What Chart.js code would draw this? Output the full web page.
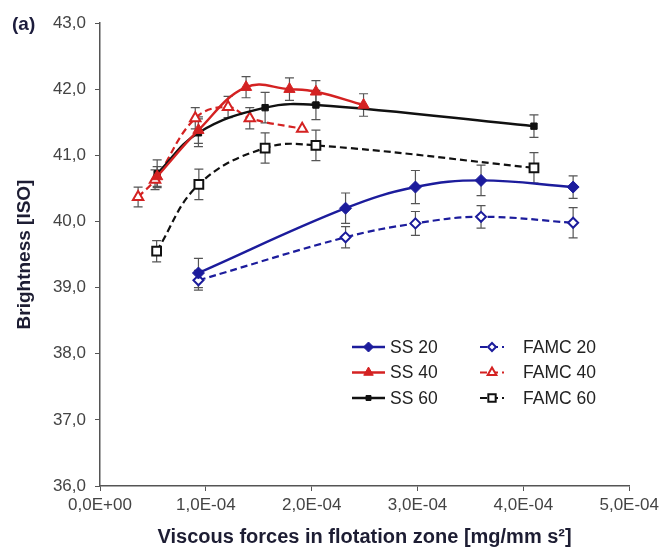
<!DOCTYPE html>
<html>
<head>
<meta charset="utf-8">
<script src="https://cdn.jsdelivr.net/npm/chart.js@4.4.0/dist/chart.umd.min.js"></script>
<style>
  html, body { margin: 0; padding: 0; background: #fff; }
</style>
</head>
<body>
<canvas id="brightChart" width="663" height="550"></canvas>
<script>
// axis ticks
const xTicks = [0, 1e-4, 2e-4, 3e-4, 4e-4, 5e-4];
const xTickLabels = ['0,0E+00', '1,0E-04', '2,0E-04', '3,0E-04', '4,0E-04', '5,0E-04'];
const yTicks = [36, 37, 38, 39, 40, 41, 42, 43];
const yTickLabels = ['36,0', '37,0', '38,0', '39,0', '40,0', '41,0', '42,0', '43,0'];

// SS series
const ss20X = [0.93e-4, 2.32e-4, 2.98e-4, 3.60e-4, 4.47e-4];
const ss20Y = [39.22, 40.20, 40.52, 40.62, 40.52];
const ss20Err = [0.22, 0.23, 0.25, 0.23, 0.17];

const ss40X = [0.54e-4, 0.93e-4, 1.38e-4, 1.79e-4, 2.04e-4, 2.49e-4];
const ss40Y = [40.68, 41.38, 42.03, 42.00, 41.96, 41.76];
const ss40Err = [0.15, 0.20, 0.16, 0.17, 0.17, 0.17];

const ss60X = [0.54e-4, 0.93e-4, 1.56e-4, 2.04e-4, 4.10e-4];
const ss60Y = [40.72, 41.34, 41.72, 41.76, 41.44];
const ss60Err = [0.21, 0.21, 0.23, 0.22, 0.17];

// FAMC series
const famc20X = [0.93e-4, 2.32e-4, 2.98e-4, 3.60e-4, 4.47e-4];
const famc20Y = [39.11, 39.76, 39.97, 40.07, 39.98];
const famc20Err = [0.15, 0.16, 0.18, 0.17, 0.23];

const famc40X = [0.36e-4, 0.52e-4, 0.90e-4, 1.21e-4, 1.415e-4, 1.91e-4];
const famc40Y = [40.37, 40.63, 41.56, 41.73, 41.56, 41.40];
const famc40Err = [0.15, 0.15, 0.16, 0.16, 0.16, 0];

const famc60X = [0.535e-4, 0.934e-4, 1.56e-4, 2.04e-4, 4.10e-4];
const famc60Y = [39.55, 40.56, 41.11, 41.15, 40.81];
const famc60Err = [0.16, 0.23, 0.23, 0.23, 0.23];

const BLUE = '#1c1c9c', RED = '#d42222', BLACK = '#111111';
const FONT = '"Liberation Sans", Arial, sans-serif';

function pts(xs, ys) { return xs.map((x, i) => ({x: x, y: ys[i]})); }

function series(label, xs, ys, errs, color, style, radius, open) {
  return {
    label: label,
    data: pts(xs, ys),
    errors: errs,
    borderColor: color,
    backgroundColor: open ? '#ffffff' : color,
    pointBorderColor: color,
    pointBackgroundColor: open ? '#ffffff' : color,
    pointStyle: style,
    pointRadius: radius,
    pointBorderWidth: open ? 2 : 1,
    borderWidth: open ? 2.2 : 2.4,
    borderDash: open ? [7, 4] : [],
    tension: 0.4,
    fill: false
  };
}

// error bars under the markers
const errorBars = {
  id: 'errorBars',
  beforeDatasetsDraw(chart) {
    const ctx = chart.ctx, ys = chart.scales.y;
    ctx.save();
    ctx.strokeStyle = '#555';
    ctx.lineWidth = 1.2;
    chart.data.datasets.forEach((ds, i) => {
      const meta = chart.getDatasetMeta(i);
      ds.data.forEach((p, j) => {
        const e = ds.errors[j];
        if (!e) return;
        const x = meta.data[j].x;
        const top = ys.getPixelForValue(p.y + e), bot = ys.getPixelForValue(p.y - e);
        ctx.beginPath();
        ctx.moveTo(x, top); ctx.lineTo(x, bot);
        ctx.moveTo(x - 4.5, top); ctx.lineTo(x + 4.5, top);
        ctx.moveTo(x - 4.5, bot); ctx.lineTo(x + 4.5, bot);
        ctx.stroke();
      });
    });
    ctx.restore();
  }
};

// two column legend inside the plot + panel letter
const insideLegend = {
  id: 'insideLegend',
  afterDraw(chart) {
    const ctx = chart.ctx;
    ctx.save();
    chart.data.datasets.forEach((ds, i) => {
      const col = i < 3 ? 0 : 1, row = i % 3;
      const x0 = col === 0 ? 352 : 480, x1 = col === 0 ? 385 : 504;
      const tx = col === 0 ? 390 : 523;
      const y = 347 + row * 25.5;
      ctx.strokeStyle = ds.borderColor;
      ctx.lineWidth = ds.borderWidth;
      ctx.setLineDash(ds.borderDash);
      ctx.beginPath(); ctx.moveTo(x0, y); ctx.lineTo(x1, y); ctx.stroke();
      ctx.setLineDash([]);
      ctx.fillStyle = ds.pointBackgroundColor;
      ctx.strokeStyle = ds.pointBorderColor;
      ctx.lineWidth = ds.pointBorderWidth;
      Chart.helpers.drawPoint(ctx, {pointStyle: ds.pointStyle, radius: ds.pointRadius - 1, rotation: 0, borderWidth: ds.pointBorderWidth}, (x0 + x1) / 2, y);
      ctx.fillStyle = '#222';
      ctx.font = '17.5px ' + FONT;
      ctx.textBaseline = 'middle';
      ctx.textAlign = 'left';
      ctx.fillText(ds.label, tx, y + 1);
    });
    ctx.fillStyle = '#1c1c3c';
    ctx.font = 'bold 19px ' + FONT;
    ctx.textBaseline = 'middle';
    ctx.fillText('(a)', 12, 25);
    ctx.restore();
  }
};

new Chart(document.getElementById('brightChart').getContext('2d'), {
  type: 'line',
  data: {
    datasets: [
      series('SS 20', ss20X, ss20Y, ss20Err, BLUE, 'rectRot', 6, false),
      series('SS 40', ss40X, ss40Y, ss40Err, RED, 'triangle', 6.5, false),
      series('SS 60', ss60X, ss60Y, ss60Err, BLACK, 'rect', 4.5, false),
      series('FAMC 20', famc20X, famc20Y, famc20Err, BLUE, 'rectRot', 5, true),
      series('FAMC 40', famc40X, famc40Y, famc40Err, RED, 'triangle', 6, true),
      series('FAMC 60', famc60X, famc60Y, famc60Err, BLACK, 'rect', 6.2, true)
    ]
  },
  options: {
    responsive: false,
    animation: false,
    layout: {padding: {top: 23, right: 33, bottom: 0, left: 0}},
    plugins: {legend: {display: false}, tooltip: {enabled: false}},
    scales: {
      x: {
        type: 'linear',
        min: 0, max: 5e-4,
        afterBuildTicks: s => { s.ticks = xTicks.map(v => ({value: v})); },
        afterFit: s => { s.height = 64; },
        grid: {drawOnChartArea: false, drawTicks: true, tickLength: 5, color: '#555'},
        border: {color: '#555', width: 1.5},
        ticks: {
          color: '#444', padding: 4, maxRotation: 0,
          font: {family: FONT, size: 17},
          callback: (v, i) => xTickLabels[i]
        },
        title: {
          display: true,
          text: 'Viscous forces in flotation zone [mg/mm s\u00b2]',
          color: '#1d1d33',
          font: {family: FONT, size: 20, weight: 'bold'},
          padding: {top: 0, bottom: 1}
        }
      },
      y: {
        min: 36, max: 43,
        afterBuildTicks: s => { s.ticks = yTicks.map(v => ({value: v})); },
        afterFit: s => { s.width = 100; },
        grid: {drawOnChartArea: false, drawTicks: true, tickLength: 5, color: '#555'},
        border: {color: '#555', width: 1.5},
        ticks: {
          color: '#444', padding: 9,
          font: {family: FONT, size: 17},
          callback: (v, i) => yTickLabels[i]
        },
        title: {
          display: true,
          text: 'Brightness [ISO]',
          color: '#1d1d33',
          font: {family: FONT, size: 19, weight: 'bold'},
          padding: {top: 13.5, bottom: 0}
        }
      }
    }
  },
  plugins: [errorBars, insideLegend]
});
</script>
</body>
</html>
